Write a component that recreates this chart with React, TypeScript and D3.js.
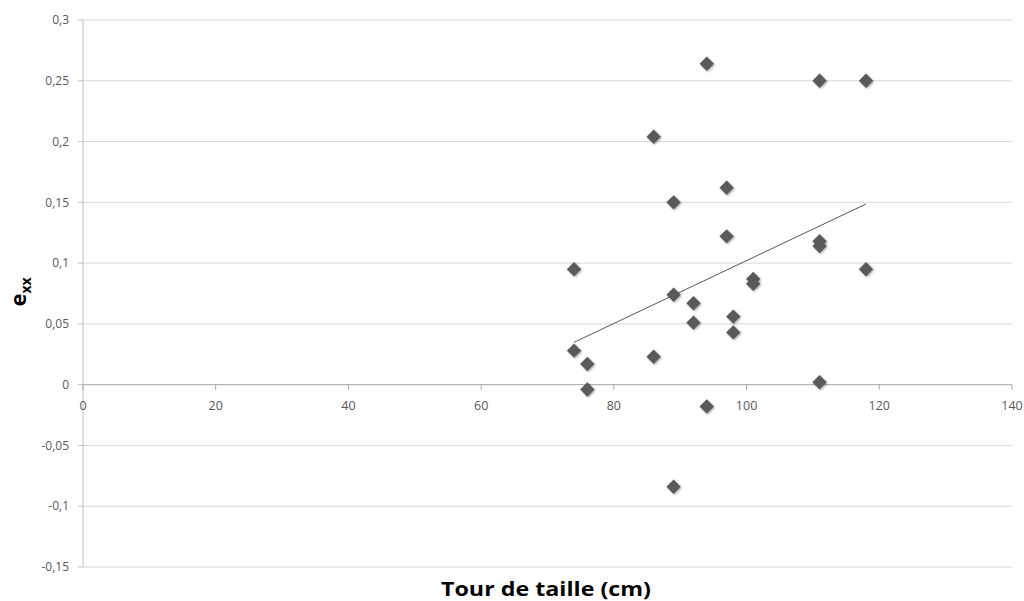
import React from "react";
import * as d3 from "d3";

const xValues = [74, 74, 76, 76, 86, 86, 89, 89, 89, 92, 92, 94, 94, 97, 97, 98, 98, 101, 101, 111, 111, 111, 111, 118, 118];
const yValues = [0.095, 0.028, 0.017, -0.004, 0.023, 0.204, 0.150, 0.074, -0.084, 0.067, 0.051, 0.264, -0.018, 0.162, 0.122, 0.056, 0.043, 0.087, 0.083, 0.250, 0.118, 0.114, 0.002, 0.250, 0.095];
const xTicks = [0, 20, 40, 60, 80, 100, 120, 140];
const yTicks = [-0.15, -0.1, -0.05, 0, 0.05, 0.1, 0.15, 0.2, 0.25, 0.3];
const xTitle = "Tour de taille (cm)";

const W = 1024, H = 601;
const left = 83, right = 1012, top = 20, bottom = 567;

const fmt = (v: number) => {
  const r = Math.round(v * 100) / 100;
  return String(r).replace(".", ",");
};

export default function App() {
  const x = d3.scaleLinear().domain([0, 140]).range([left, right]);
  const y = d3.scaleLinear().domain([-0.15, 0.3]).range([bottom, top]);

  const pts = xValues.map((xv, i) => ({ x: xv, y: yValues[i] }));
  const mx = d3.mean(xValues) as number;
  const my = d3.mean(yValues) as number;
  let sxy = 0, sxx = 0;
  pts.forEach((p) => {
    sxy += (p.x - mx) * (p.y - my);
    sxx += (p.x - mx) * (p.x - mx);
  });
  const slope = sxy / sxx;
  const intercept = my - slope * mx;
  const [x0, x1] = d3.extent(xValues) as [number, number];
  const line = d3.line<[number, number]>().x((d) => x(d[0])).y((d) => y(d[1]));
  const trend = line([[x0, intercept + slope * x0], [x1, intercept + slope * x1]]) || "";

  const diamond = d3.symbol().type(d3.symbolDiamond2 ?? d3.symbolDiamond).size(132)();

  const font = "'Open Sans', 'Liberation Sans', sans-serif";

  return (
    <svg width={W} height={H} viewBox={`0 0 ${W} ${H}`} style={{ position: "absolute", left: 0, top: 0, background: "#fff" }}>
      <defs>
        <filter id="sh" x="-50%" y="-50%" width="200%" height="200%">
          <feGaussianBlur in="SourceAlpha" stdDeviation="1" />
          <feOffset dx="1" dy="1" result="b" />
          <feComponentTransfer><feFuncA type="linear" slope="0.35" /></feComponentTransfer>
          <feMerge><feMergeNode /><feMergeNode in="SourceGraphic" /></feMerge>
        </filter>
      </defs>
      {yTicks.map((t) => (
        <g key={"y" + t}>
          {t !== 0 && <line x1={left} x2={right} y1={y(t)} y2={y(t)} stroke="#d9d9d9" strokeWidth={1} />}
          <line x1={left - 5} x2={left} y1={y(t)} y2={y(t)} stroke="#bfbfbf" strokeWidth={1} />
          <text x={left - 14} y={y(t)} dy="0.35em" textAnchor="end" fontFamily={font} fontSize={12} fill="#595959">{fmt(t)}</text>
        </g>
      ))}
      <line x1={left} x2={left} y1={top} y2={bottom} stroke="#bfbfbf" strokeWidth={1} />
      <line x1={left} x2={right} y1={y(0)} y2={y(0)} stroke="#a6a6a6" strokeWidth={1} />
      {xTicks.map((t) => (
        <g key={"x" + t}>
          <line x1={x(t)} x2={x(t)} y1={y(0)} y2={y(0) + 5} stroke="#a6a6a6" strokeWidth={1} />
          <text x={x(t)} y={y(0) + 25} textAnchor="middle" fontFamily={font} fontSize={12.5} fill="#595959">{t}</text>
        </g>
      ))}
      <path d={trend} fill="none" stroke="#595959" strokeWidth={1} />
      {pts.map((p, i) => (
        <path key={i} d={diamond as string} transform={`translate(${x(p.x)},${y(p.y)})`} fill="#5a5a5a" filter="url(#sh)" />
      ))}
      <text x={546} y={596} textAnchor="middle" fontFamily={font} fontWeight="bold" fontSize={20} fill="#000" textLength={210} lengthAdjust="spacingAndGlyphs">{xTitle}</text>
      <text transform={`translate(26,292) rotate(-90)`} textAnchor="middle" fontFamily={font} fontWeight="bold" fontSize={22} fill="#000">
        e<tspan fontSize={14} dy={5}>xx</tspan>
      </text>
    </svg>
  );
}
